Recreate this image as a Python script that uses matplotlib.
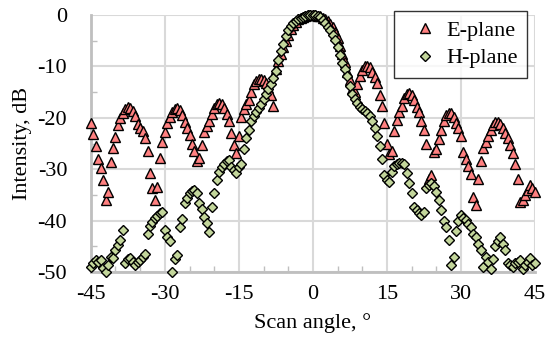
import matplotlib.pyplot as plt
import numpy as np

plt.rcParams['font.family'] = ['Liberation Serif', 'DejaVu Serif']
plt.rcParams['axes.unicode_minus'] = False

# scan angles, degrees
angle = np.arange(-45, 45.01, 0.5)

e_plane = [
    -21.0, -23.2, -25.5, -28.0, -29.8, -32.0, -36.0, -34.5, -28.5, -25.8,
    -23.8, -21.4, -20.0, -19.0, -18.3, -17.9, -18.1, -18.7, -19.7, -21.2,
    -21.9, -22.5, -24.0, -26.5, -30.8, -33.7, -36.0, -33.4, -27.8, -24.6,
    -22.7, -21.0, -19.8, -18.8, -18.3, -18.1, -18.5, -19.5, -20.8, -22.0,
    -23.4, -25.0, -26.4, -28.3, -27.9, -25.3, -22.7, -21.6, -20.6, -19.2,
    -18.1, -17.4, -17.1, -17.4, -18.1, -19.2, -20.6, -23.0, -25.3, -26.8,
    -23.5, -19.8, -18.2, -17.4, -16.5, -15.0, -13.5, -12.8, -12.4, -12.4,
    -12.7, -13.3, -14.2, -15.6, -17.6, -10.5, -9.0, -7.6, -6.2, -5.0,
    -3.9, -2.8, -1.9, -1.3, -0.8, -0.5, -0.3, -0.1, 0.0, 0.0,
    0.0, 0.0, -0.1, -0.2, -0.5, -0.8, -1.2, -1.7, -2.4, -3.3,
    -4.5, -6.0, -7.5, -9.2, -11.0, -12.6, -14.3, -15.0, -13.4, -11.8,
    -10.6, -10.0, -9.9, -10.2, -11.0, -12.0, -13.2, -15.5, -17.6, -21.0,
    -25.0, -27.0, -26.4, -22.6, -20.5, -18.9, -17.6, -16.2, -15.4, -15.2,
    -15.6, -16.5, -17.8, -18.9, -20.6, -22.3, -25.0, -31.8, -31.1, -26.6,
    -26.0, -24.2, -22.4, -20.6, -19.5, -19.0, -19.0, -19.8, -21.0, -22.0,
    -23.5, -26.6, -28.0, -29.4, -31.0, -35.4, -37.0, -31.8, -28.3, -25.9,
    -24.6, -23.6, -22.4, -21.4, -20.9, -20.8, -21.2, -22.0, -23.0, -24.0,
    -25.3, -26.9, -28.9, -31.8, -36.3, -36.0, -35.0, -34.0, -33.1, -33.6,
    -34.5,
]

h_plane = [
    -49.0, -48.3, -47.6, -48.0, -47.7, -49.2, -49.9, -48.6, -47.0, -47.3,
    -45.7, -44.8, -43.8, -41.8, -48.3, -47.5, -47.3, -48.0, -48.6, -48.0,
    -47.7, -47.0, -46.4, -42.5, -41.0, -40.3, -39.5, -39.0, -38.6, -38.3,
    -41.8, -43.2, -44.0, -49.9, -47.5, -46.7, -41.2, -39.6, -36.6, -35.5,
    -34.7, -34.2, -34.0, -34.7, -36.6, -37.8, -39.2, -40.5, -42.2, -37.3,
    -34.7, -32.0, -30.5, -29.5, -28.9, -28.4, -28.2, -29.5, -30.2, -30.8,
    -29.5, -28.9, -26.0, -24.0, -22.3, -20.6, -19.6, -18.9, -18.1, -17.3,
    -16.3, -15.4, -14.4, -13.4, -12.2, -10.8, -8.8, -7.0, -5.6, -4.1,
    -2.9, -2.2, -1.6, -1.2, -0.8, -0.5, -0.3, -0.1, 0.0, 0.0,
    0.0, 0.0, -0.2, -0.4, -0.9, -1.5, -2.3, -3.0, -3.9, -4.9,
    -6.2, -7.8, -9.3, -10.5, -11.8, -13.8, -15.4, -16.4, -17.1, -17.8,
    -18.2, -18.6, -19.0, -19.6, -20.7, -22.0, -23.5, -25.4, -28.0, -31.1,
    -32.0, -32.4, -30.5, -29.3, -28.9, -28.7, -28.8, -28.9, -30.8, -32.7,
    -34.7, -37.3, -38.0, -38.6, -38.9, -38.3, -33.7, -33.0, -32.7, -33.3,
    -34.4, -36.0, -37.9, -40.0, -41.2, -43.8, -48.6, -47.0, -42.0, -40.0,
    -38.9, -39.4, -39.9, -40.6, -41.2, -42.5, -43.1, -44.5, -45.7, -49.0,
    -47.0, -48.0, -49.3, -47.5, -45.0, -44.0, -43.1, -44.5, -45.7, -48.3,
    -48.6, -49.0, -48.2, -48.0, -47.7, -49.3, -48.6, -48.0, -47.3, -48.6,
    -48.2,
]

fig = plt.figure(figsize=(5.47, 3.41), dpi=100)
ax = fig.add_axes([0.166, 0.202, 0.812, 0.754])

ax.plot(angle, e_plane, linestyle='none', marker='^', markersize=7.3,
        markerfacecolor='#FF8080', markeredgecolor='black', markeredgewidth=1.0,
        label='E-plane', clip_on=False, zorder=3)
ax.plot(angle, h_plane, linestyle='none', marker='D', markersize=5.6,
        markerfacecolor='#C3D69B', markeredgecolor='black', markeredgewidth=1.0,
        label='H-plane', clip_on=False, zorder=4)

ax.set_xlim(-45, 45)
ax.set_ylim(-50, 0)
ax.set_xticks(np.arange(-45, 46, 15))
ax.set_yticks(np.arange(-50, 1, 10))
ax.set_xticks(np.arange(-45, 46, 5), minor=True)
ax.set_yticks(np.arange(-50, 1, 5), minor=True)
ax.tick_params(axis='x', which='major', length=0, labelsize=16, pad=9)
ax.tick_params(axis='y', which='major', length=0, labelsize=16, pad=17)
ax.tick_params(axis='both', which='minor', direction='in', length=4,
               width=1, color='#BFBFBF')

ax.grid(True, which='major', color='#D9D9D9', linewidth=1.5, zorder=0)
ax.set_axisbelow(True)
for side in ['top', 'right']:
    ax.spines[side].set_visible(False)
for side in ['left', 'bottom']:
    ax.spines[side].set_color('#BFBFBF')
    ax.spines[side].set_linewidth(2)

ax.set_xlabel('Scan angle, °', fontsize=16, labelpad=7)
ax.set_ylabel('Intensity, dB', fontsize=16, labelpad=4)

leg = ax.legend(loc='upper right', bbox_to_anchor=(1.008, 1.06), fontsize=16,
                frameon=True, fancybox=False, handletextpad=0.0,
                borderpad=0.45, labelspacing=0.3, handlelength=1.9)
leg.get_frame().set_edgecolor('black')
leg.get_frame().set_linewidth(1)
leg.set_zorder(10)

fig.savefig('out.png', dpi=100)
